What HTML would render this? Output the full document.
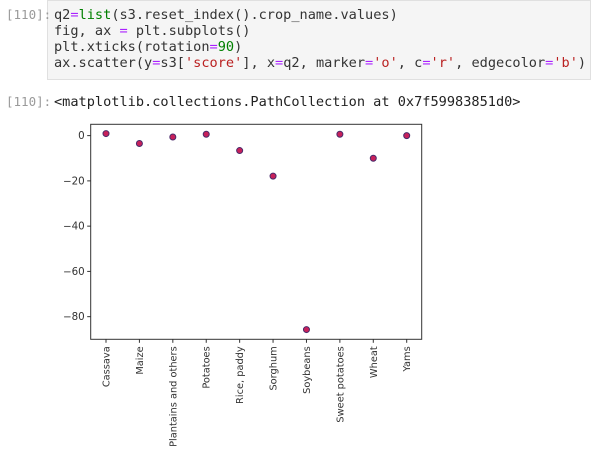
<!DOCTYPE html>
<html><head><meta charset="utf-8"><style>
body{margin:0;width:591px;height:449px;background:#fff;overflow:hidden;position:relative;font-family:"DejaVu Sans Mono","Liberation Mono",monospace}
.prompt{position:absolute;left:6px;color:#9a9a9a;font-size:12.5px}
.code{position:absolute;left:47px;top:0;width:544px;height:80px;background:#f5f5f5;border:1px solid #e0e0e0;box-sizing:border-box}
.line{position:absolute;left:54px;font-size:13.6px;white-space:pre;color:#333;line-height:16px}
.g{color:#008000}.p{color:#aa22ff}.s{color:#ba2121}
</style></head><body>
<div class="code"></div>
<div class="prompt" style="top:7px">[110]:</div>
<div class="line" style="top:7px">q2<span class="p">=</span><span class="g">list</span>(s3.reset_index().crop_name.values)</div>
<div class="line" style="top:23px">fig, ax <span class="p">=</span> plt.subplots()</div>
<div class="line" style="top:39px">plt.xticks(rotation<span class="p">=</span><span class="g">90</span>)</div>
<div class="line" style="top:55px">ax.scatter(y<span class="p">=</span>s3[<span class="s">'score'</span>], x<span class="p">=</span>q2, marker<span class="p">=</span><span class="s">'o'</span>, c<span class="p">=</span><span class="s">'r'</span>, edgecolor<span class="p">=</span><span class="s">'b'</span>)</div>
<div class="prompt" style="top:94px">[110]:</div>
<div class="line" style="top:94px;color:#222">&lt;matplotlib.collections.PathCollection at 0x7f59983851d0&gt;</div>
<svg id="chart" width="591" height="449" style="position:absolute;left:0;top:0"></svg>
<script>
const categories=["Cassava","Maize","Plantains and others","Potatoes","Rice, paddy","Sorghum","Soybeans","Sweet potatoes","Wheat","Yams"];
const scores=[0.9,-3.5,-0.6,0.6,-6.6,-17.9,-85.7,0.6,-10,0];
const yTicks=[0,-20,-40,-60,-80];
const L=90.7,R=421.7,T=124.3,B=339.3,yMin=-90,yMax=5;
const NS="http://www.w3.org/2000/svg";
const svg=document.getElementById('chart');
function yS(v){return B-(v-yMin)/(yMax-yMin)*(B-T);}
function xS(i){return 106+i*(406.7-106)/(categories.length-1);}
function mk(t,a){const e=document.createElementNS(NS,t);for(const k in a)e.setAttribute(k,a[k]);svg.appendChild(e);return e;}
const frame=mk('rect',{x:L,y:T,width:R-L,height:B-T,fill:'none',stroke:'#333','stroke-width':1});


yTicks.forEach(v=>{
 const y=yS(v);
 const tk=mk('line',{x1:L-3.5,x2:L,y1:y,y2:y,stroke:'#333'});
 
 
 const t=mk('text',{x:L-6,y:y+3.5,'text-anchor':'end','font-size':'10.3px','font-family':'DejaVu Sans, sans-serif',fill:'#333'});
 t.textContent=String(v).replace('-','\u2212');
 
 
});
categories.forEach((c,i)=>{
 const x=xS(i);
 const tk=mk('line',{x1:x,x2:x,y1:B,y2:B+3.5,stroke:'#333'});
 
 
 const t=mk('text',{x:0,y:0,'text-anchor':'end','font-size':'9.8px','font-family':'DejaVu Sans, sans-serif',fill:'#333',transform:`translate(${x+3.5},${B+7}) rotate(-90)`});
 t.textContent=c;
 
 
});
scores.forEach((v,i)=>{
 const p=mk('circle',{cx:xS(i),cy:yS(v),r:3,fill:'#c8205a',stroke:'#4a2a6a','stroke-width':1});
 
 
});
</script>
</body></html>
